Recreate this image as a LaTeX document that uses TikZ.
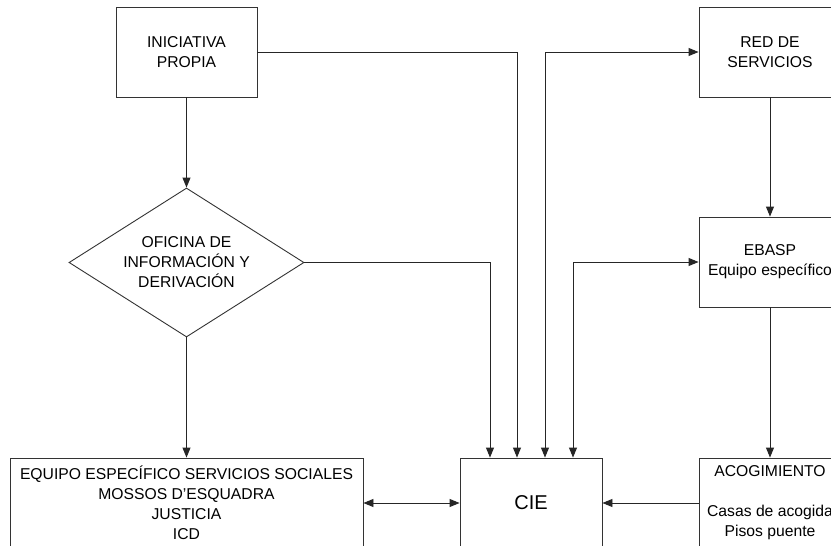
\documentclass[tikz,border=0pt]{standalone}
\usepackage{fontspec}
\setmainfont{Liberation Sans}
\usetikzlibrary{shapes.geometric,arrows.meta}
\begin{document}
\begin{tikzpicture}[x=1pt,y=-1pt,
  every node/.style={font=\fontsize{15.7}{20}\selectfont, align=center, inner sep=0pt},
  box/.style={draw=black!80, line width=0.9pt, rectangle, minimum height=90pt},
  smallbox/.style={box, minimum width=142pt},
  decision/.style={draw=black!80, line width=0.9pt, diamond, aspect=1.577, minimum width=235pt, minimum height=149pt},
  conn/.style={draw=black!85, line width=0.9pt},
  arr/.style={conn, -{Triangle[length=10pt,width=8pt]}},
  arrr/.style={conn, {Triangle[length=10pt,width=8pt]}-{Triangle[length=10pt,width=8pt]}}
]
\clip (0,0) rectangle (831,546);
\fill[white] (0,0) rectangle (831,546);

\node[smallbox, minimum width=141pt] (ini) at (186.5,52) {INICIATIVA\\PROPIA};
\node[decision] (ofi) at (186.5,262.5) {OFICINA DE\\INFORMACIÓN Y\\DERIVACIÓN};
\node[box, minimum width=353pt] (equ) at (186.5,503) {EQUIPO ESPECÍFICO SERVICIOS SOCIALES\\MOSSOS D'ESQUADRA\\JUSTICIA\\ICD};
\node[smallbox, font=\fontsize{20}{24}\selectfont] (cie) at (531,503) {CIE};
\node[smallbox] (red) at (770,52) {RED DE\\SERVICIOS};
\node[smallbox] (eba) at (770,262) {EBASP\\Equipo específico};
\node[smallbox] (aco) at (770,503) {ACOGIMIENTO\\ \\Casas de acogida\\Pisos puente};

\coordinate (c1) at ([xshift=-41pt]cie.north);
\coordinate (c2) at ([xshift=-14pt]cie.north);
\coordinate (c3) at ([xshift=14pt]cie.north);
\coordinate (c4) at ([xshift=42pt]cie.north);

\draw[arr] (ini.south) -- (ofi.north);
\draw[arr] (ofi.south) -- (equ.north);
\draw[arr] (ini.east) -| (c2);
\draw[arr] (ofi.east) -| (c1);
\draw[arrr] (red.west) -| (c3);
\draw[arrr] (eba.west) -| (c4);
\draw[arr] (red.south) -- (eba.north);
\draw[arr] (eba.south) -- (aco.north);
\draw[arrr] (equ.east) -- (cie.west);
\draw[arr] (aco.west) -- (cie.east);
\end{tikzpicture}
\end{document}
